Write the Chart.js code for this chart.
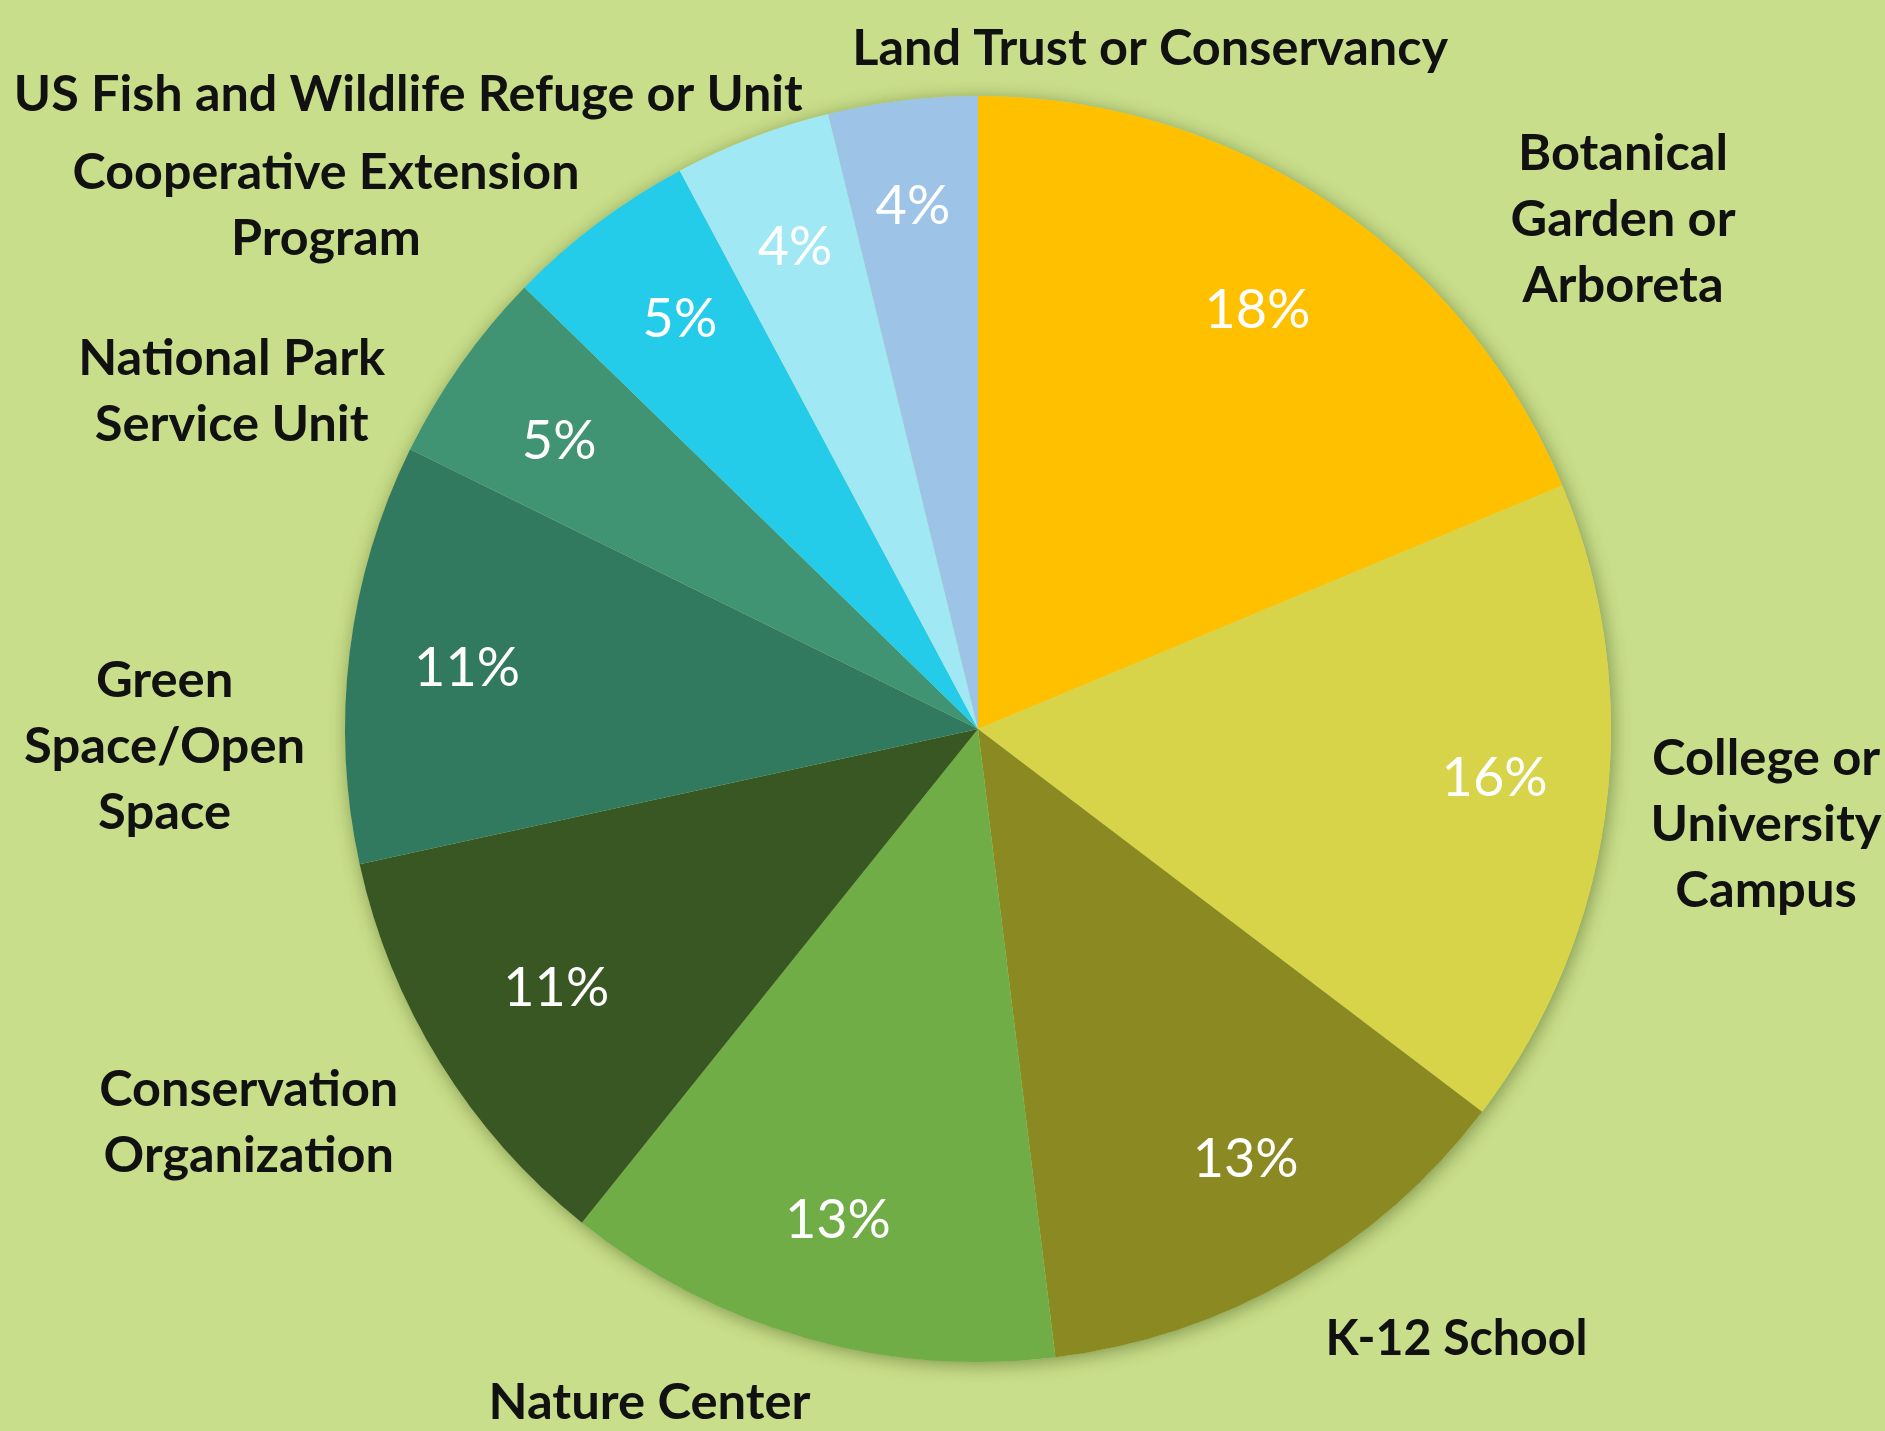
<!DOCTYPE html>
<html><head><meta charset="utf-8">
<script src="https://cdn.jsdelivr.net/npm/chart.js@4"></script>
<style>html,body{margin:0;padding:0;background:#C9DE8A;overflow:hidden}</style>
</head><body>
<canvas id="c" width="1885" height="1431"></canvas>
<script>
// ---- data ----
const categories = [
  'Botanical Garden or Arboreta',
  'College or University Campus',
  'K-12 School',
  'Nature Center',
  'Conservation Organization',
  'Green Space/Open Space',
  'National Park Service Unit',
  'Cooperative Extension Program',
  'US Fish and Wildlife Refuge or Unit',
  'Land Trust or Conservancy'
];
const shares = [18.7, 16.6, 12.7, 12.7, 10.8, 10.7, 5.0, 4.9, 4.0, 3.8];
const pctLabels = ['18%', '16%', '13%', '13%', '11%', '11%', '5%', '5%', '4%', '4%'];
const nameLines = [
  ['Botanical', 'Garden or', 'Arboreta'],
  ['College or', 'University', 'Campus'],
  ['K-12 School'],
  ['Nature Center'],
  ['Conservation', 'Organization'],
  ['Green', 'Space/Open', 'Space'],
  ['National Park', 'Service Unit'],
  ['Cooperative Extension', 'Program'],
  ['US Fish and Wildlife Refuge or Unit'],
  ['Land Trust or Conservancy']
];
const sliceColors = ['#FFC000', '#D8D44A', '#8B8922', '#70AD47', '#385723',
                     '#327A5F', '#409474', '#24CCEA', '#A0E8F4', '#9DC3E6'];

// ---- label placement (relative to pie centre, in units of radius) ----
const nameLayout = [
  {dx: 1.019, dy: -0.805, w: 225},
  {dx: 1.245, dy: 0.152, w: 231},
  {dx: 0.756, dy: 0.964, w: 262},
  {dx: -0.519, dy: 1.065, w: 322},
  {dx: -1.152, dy: 0.622, w: 299},
  {dx: -1.285, dy: 0.028, w: 281},
  {dx: -1.179, dy: -0.533, w: 307},
  {dx: -1.030, dy: -0.826, w: 507},
  {dx: -0.900, dy: -1.002, w: 789},
  {dx: 0.272, dy: -1.074, w: 596}
];
// small nudges of the percentage labels from the slice centroid (px)
const pctNudge = [[-5, 8], [8, -16], [12, -14], [0, -2], [14, -11],
                  [-2, 2], [0, 8], [10, 0], [0, -2], [-4, -13]];
const BG = '#C9DE8A';

const shadowPlugin = {
  id: 'pieShadow',
  beforeDatasetsDraw(chart) {
    const arc = chart.getDatasetMeta(0).data[0];
    if (!arc) return;
    const ctx = chart.ctx;
    ctx.save();
    ctx.shadowColor = 'rgba(40,60,0,0.45)';
    ctx.shadowBlur = 18;
    ctx.shadowOffsetX = 2;
    ctx.shadowOffsetY = 3;
    ctx.beginPath();
    ctx.arc(arc.x, arc.y, arc.outerRadius, 0, Math.PI * 2);
    ctx.fillStyle = BG;
    ctx.fill();
    ctx.restore();
  }
};

const labelPlugin = {
  id: 'pieLabels',
  afterDatasetsDraw(chart) {
    const ctx = chart.ctx;
    const arcs = chart.getDatasetMeta(0).data;
    ctx.save();
    ctx.textAlign = 'center';
    ctx.textBaseline = 'middle';
    arcs.forEach((arc, i) => {
      const mid = (arc.startAngle + arc.endAngle) / 2;
      const r = arc.outerRadius;
      // percentage inside
      ctx.fillStyle = '#FFFFFF';
      ctx.font = '400 54px Lato';
      ctx.fillText(pctLabels[i],
        arc.x + Math.cos(mid) * r * 0.81 + pctNudge[i][0],
        arc.y + Math.sin(mid) * r * 0.81 + pctNudge[i][1]);
      // category name outside
      const lay = nameLayout[i];
      const lines = nameLines[i];
      ctx.font = '700 50px Lato';
      ctx.fillStyle = '#111111';
      const widest = Math.max(...lines.map(t => ctx.measureText(t).width));
      const sx = lay.w / widest;
      const cx = arc.x + lay.dx * r;
      const cy = arc.y + lay.dy * r;
      const lh = 66;
      lines.forEach((t, k) => {
        const ly = cy + (k - (lines.length - 1) / 2) * lh;
        ctx.save();
        ctx.translate(cx, ly);
        ctx.scale(sx, 1);
        ctx.fillText(t, 0, 0);
        ctx.restore();
      });
    });
    ctx.restore();
  }
};

new Chart(document.getElementById('c'), {
  type: 'pie',
  data: {
    labels: categories,
    datasets: [{
      data: shares,
      backgroundColor: sliceColors,
      borderWidth: 0
    }]
  },
  options: {
    responsive: false,
    animation: false,
    devicePixelRatio: 1,
    layout: {padding: {left: 345, right: 274, top: 96, bottom: 69}},
    plugins: {legend: {display: false}, tooltip: {enabled: false}}
  },
  plugins: [shadowPlugin, labelPlugin]
});
</script>
</body></html>
